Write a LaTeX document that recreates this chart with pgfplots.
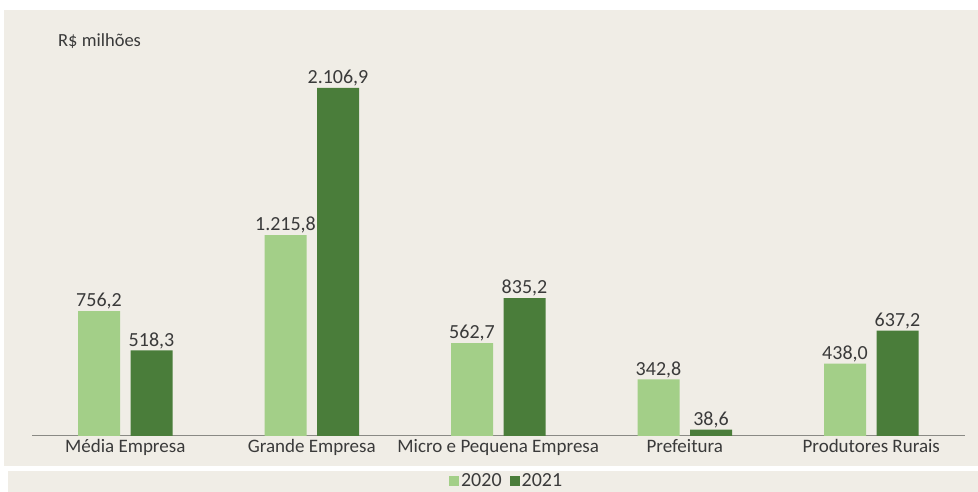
\documentclass[border=0pt]{standalone}
\usepackage{fontspec}
\setmainfont{Carlito}
\usepackage{pgfplots}
\pgfplotsset{compat=1.18}
\definecolor{bg}{HTML}{F0EDE6}
\definecolor{lg}{HTML}{A3CF88}
\definecolor{dg}{HTML}{4A7D3A}
\definecolor{txt}{HTML}{3A3A3A}
\definecolor{axc}{HTML}{8A8A85}
\begin{document}
\begin{tikzpicture}[x=1pt,y=1pt]
\useasboundingbox (0,0) rectangle (978,492);
\fill[white] (0,0) rectangle (978,492);
\fill[bg] (4,26) rectangle (978,482);
\fill[bg] (8,0) rectangle (978,21);
\node[anchor=west, text=txt, font=\fontsize{18.5}{21}\selectfont, inner sep=0pt] at (58,451) {R\$ milhões};
\begin{axis}[
  at={(32pt,56pt)}, anchor=south west,
  scale only axis, width=932.5pt, height=413pt,
  xmin=-0.5, xmax=4.5, ymin=0, ymax=2500,
  ybar=10.5pt, bar width=42pt,
  axis x line=bottom, axis y line=none,
  x axis line style={-, draw=axc, line width=1pt},
  xtick={0,1,2,3,4},
  xticklabels={Média Empresa, Grande Empresa, Micro e Pequena Empresa, Prefeitura, Produtores Rurais},
  major tick length=0pt,
  xticklabel style={font=\fontsize{19}{22}\selectfont, text=txt},
  nodes near coords,
  nodes near coords style={font=\fontsize{20}{23}\selectfont, text=txt, inner sep=1.5pt},
  /pgf/number format/.cd, use comma, 1000 sep={.}, fixed, fixed zerofill, precision=1, assume math mode=true,
  /pgfplots/.cd,
  legend style={at={(0.509,-0.109)}, anchor=center, draw=none, fill=none,
    legend columns=2, font=\fontsize{20}{23}\selectfont, text=txt,
    /tikz/every even column/.append style={column sep=6pt},
    /tikz/every odd column/.append style={column sep=0pt}},
  legend image code/.code={\fill[#1] (0pt,-4.5pt) rectangle (10pt,5.5pt);},
]
\addplot[fill=lg, draw=none] coordinates {(0,756.2) (1,1215.8) (2,562.7) (3,342.8) (4,438.0)};
\addplot[fill=dg, draw=none] coordinates {(0,518.3) (1,2106.9) (2,835.2) (3,38.6) (4,637.2)};
\legend{2020,2021}
\end{axis}
\end{tikzpicture}
\end{document}
